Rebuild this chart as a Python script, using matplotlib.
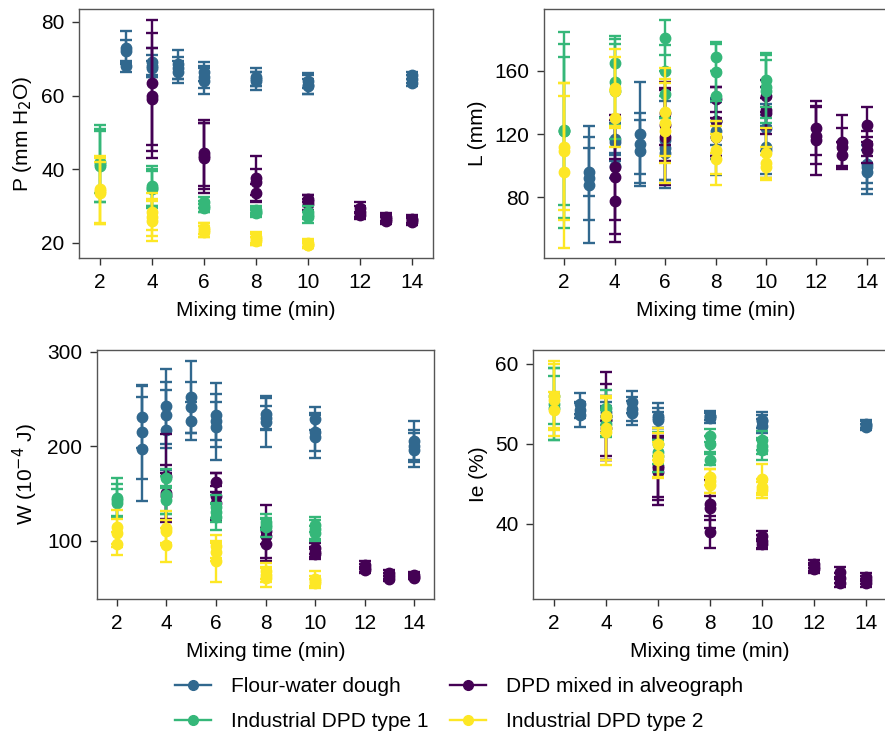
import numpy as np
import matplotlib.pyplot as plt

plt.rcParams['font.family'] = ['Liberation Sans', 'DejaVu Sans']

# ---- series ----
series = ["Flour-water dough", "DPD mixed in alveograph",
          "Industrial DPD type 1", "Industrial DPD type 2"]
colors = ["#31688E", "#440154", "#35B779", "#FDE725"]

t_flour = [3, 4, 5, 6, 8, 10, 14]
t_alveo = [4, 6, 8, 10, 12, 13, 14]
t_ind1 = [2, 4, 6, 8, 10]
t_ind2 = [2, 4, 6, 8, 10]

# ---- P (mm H2O): 3 replicates per time, mean and sd ----
P_flour = [[73, 72, 68], [69, 68, 67.5], [68.5, 67.5, 66.5], [66.5, 65, 64], [65, 64.5, 64], [64, 63, 62.5], [65.5, 64.5, 63.5]]
P_flour_sd = [[4.5, 3, 1.5], [4, 3, 2], [4, 3, 3], [2.5, 3, 3.5], [2.5, 2, 2.5], [2, 2.5, 2], [1, 1, 1]]
P_alveo = [[63.5, 60, 59], [44.5, 43.5, 43], [37.5, 36.5, 33.5], [32, 31.5, 30.5], [29.5, 28.5, 27.5], [27, 26.5, 26], [26.5, 26.2, 25.8]]
P_alveo_sd = [[17, 17, 14], [9, 9, 9.5], [6, 3.5, 2.5], [1, 1.5, 1.5], [1.5, 1.5, 1], [1, 1, 1], [1, 1, 1]]
P_ind1 = [[41.5, 41, 42], [35.5, 35, 34.5], [31, 30, 29.5], [29, 28.5, 28], [28.5, 27.5, 27]]
P_ind1_sd = [[10.5, 10, 8.5], [5.5, 5, 5], [1.5, 1.5, 1], [1, 1, 1], [1.5, 1, 1.5]]
P_ind2 = [[34.5, 34, 33.5], [28.5, 27, 26], [24, 23.5, 23], [21.5, 21, 20.5], [20, 19.5, 19.3]]
P_ind2_sd = [[9, 9, 8.5], [5, 5, 5.5], [1.5, 2, 1.5], [1.5, 1.5, 1], [1, 1, 0.8]]

# ---- L (mm) ----
L_flour = [[96, 92, 88], [117, 115, 100], [120, 114, 109], [116, 111, 108], [128, 118, 122], [124, 112, 110], [101, 99, 96]]
L_flour_sd = [[15, 26, 37], [10, 12, 8], [33, 19, 20], [25, 20, 22], [15, 24, 18], [15, 20, 15], [12, 14, 14]]
L_alveo = [[99, 93, 78], [126, 118, 133], [142, 128, 118], [144, 135, 133], [124, 119, 116], [115, 107, 112], [126, 114, 110]]
L_alveo_sd = [[33, 36, 26], [23, 30, 20], [8, 22, 12], [10, 15, 10], [17, 18, 22], [17, 8, 12], [11, 8, 8]]
L_ind1 = [[122.5, 122, 122], [165, 153, 147], [181, 160, 145], [169, 159, 144], [154, 150, 147]]
L_ind1_sd = [[62, 55, 47], [17, 27, 30], [11, 16, 15], [9, 18, 16], [17, 20, 20]]
L_ind2 = [[112, 109, 96], [149, 147, 130], [134, 122, 127], [118, 110, 104], [108, 102, 99]]
L_ind2_sd = [[40, 43, 48], [25, 22, 18], [28, 33, 25], [10, 15, 16], [16, 10, 8]]

# ---- W (10^-4 J) ----
W_flour = [[231, 215, 197], [242, 217, 233], [252, 241, 227], [233, 227, 220], [234, 230, 226], [229, 215, 210], [206, 200, 196]]
W_flour_sd = [[33, 50, 55], [40, 42, 35], [38, 27, 20], [34, 20, 35], [17, 12, 27], [12, 20, 23], [21, 17, 18]]
W_alveo = [[168, 150, 147], [162, 147, 140], [96, 110, 105], [92, 88, 86], [74, 71, 69], [66, 63, 60], [64, 62, 61]]
W_alveo_sd = [[45, 30, 25], [10, 25, 18], [17, 28, 8], [6, 5, 5], [4, 4, 3], [3, 3, 3], [3, 3, 2]]
W_ind1 = [[145, 143, 140], [166, 148, 143], [136, 125, 130], [120, 117, 114], [117, 112, 108]]
W_ind1_sd = [[21, 17, 15], [10, 20, 15], [12, 14, 10], [8, 6, 10], [8, 10, 8]]
W_ind2 = [[115, 108, 97], [113, 95, 110], [94, 88, 78], [68, 64, 61], [60, 57, 55]]
W_ind2_sd = [[18, 15, 12], [18, 18, 12], [12, 10, 22], [8, 8, 10], [8, 6, 5]]

# ---- Ie (%) ----
Ie_flour = [[55, 53.6, 54.2], [54, 53.5, 53], [55.2, 54.3, 53.8], [53.5, 53.2, 53], [53.5, 53.2, 53.4], [53, 52.8, 52.2], [52.5, 52.3, 52.1]]
Ie_flour_sd = [[1.3, 1.5, 1], [1.2, 1.2, 1.5], [1.4, 1.5, 1.5], [1.6, 1.2, 1], [0.6, 0.6, 0.5], [1, 0.8, 0.9], [0.5, 0.5, 0.4]]
Ie_alveo = [[53.5, 53, 52], [47, 46.5, 47.2], [42.5, 42, 39], [38.5, 37.8, 37.5], [35, 34.6, 34.3], [34, 33.2, 32.6], [33.4, 33, 32.6]]
Ie_alveo_sd = [[5.5, 4.5, 4], [4, 4.2, 3.8], [3, 1.5, 2], [0.6, 0.8, 0.6], [0.5, 0.5, 0.5], [0.6, 0.6, 0.5], [0.5, 0.5, 0.5]]
Ie_ind1 = [[56, 55, 54.5], [54.5, 53.5, 52.5], [50, 49, 48.5], [51, 50, 48], [50.4, 49.7, 49.2]]
Ie_ind1_sd = [[3.5, 4.5, 4], [2.2, 2.5, 1.7], [1.5, 1.5, 2], [0.8, 1, 0.7], [1.2, 1, 1.3]]
Ie_ind2 = [[56, 55.4, 54.2], [53.5, 52, 51.5], [50, 48.5, 48], [45.8, 45.3, 44.8], [45.6, 44.6, 44.2]]
Ie_ind2_sd = [[4.3, 4.5, 2.3], [2.2, 4, 4.2], [2, 2.8, 2.2], [1, 1.5, 1], [1.8, 1, 1]]

times = [t_flour, t_alveo, t_ind1, t_ind2]
panels = [
    ("P (mm H$_2$O)", [P_flour, P_alveo, P_ind1, P_ind2], [P_flour_sd, P_alveo_sd, P_ind1_sd, P_ind2_sd], (15.9, 83.5), [20, 40, 60, 80]),
    ("L (mm)", [L_flour, L_alveo, L_ind1, L_ind2], [L_flour_sd, L_alveo_sd, L_ind1_sd, L_ind2_sd], (41.7, 199), [80, 120, 160]),
    ("W (10$^{-4}$ J)", [W_flour, W_alveo, W_ind1, W_ind2], [W_flour_sd, W_alveo_sd, W_ind1_sd, W_ind2_sd], (38.3, 301.8), [100, 200, 300]),
    ("Ie (%)", [Ie_flour, Ie_alveo, Ie_ind1, Ie_ind2], [Ie_flour_sd, Ie_alveo_sd, Ie_ind1_sd, Ie_ind2_sd], (30.6, 61.7), [40, 50, 60]),
]

# axes rectangles (fig fraction), right panels run slightly past the edge like the original
rects = [
    [0.0893, 0.6485, 0.3997, 0.3392],
    [0.6147, 0.6485, 0.3876, 0.3392],
    [0.1096, 0.1839, 0.3808, 0.3393],
    [0.6026, 0.1839, 0.3997, 0.3393],
]

fig = plt.figure(figsize=(8.85, 7.34), dpi=100)

for rect, (ylab, means, sds, ylim, yticks) in zip(rects, panels):
    ax = fig.add_axes(rect)
    for k in range(4):
        t = np.array(times[k])
        m = np.array(means[k])
        s = np.array(sds[k])
        for r in range(3):
            ax.errorbar(t, m[:, r], yerr=s[:, r], fmt='o', color=colors[k],
                        ms=7.5, elinewidth=1.7, capsize=4, capthick=1.7, zorder=2 + k)
    ax.set_xlim(1.2, 14.8)
    ax.set_ylim(*ylim)
    ax.set_xticks(range(2, 15, 2))
    ax.set_yticks(yticks)
    ax.set_xlabel("Mixing time (min)", fontsize=15, labelpad=7)
    ax.set_ylabel(ylab, fontsize=15, labelpad=5)
    ax.tick_params(labelsize=15, length=5, width=1, color='#333333', pad=5.5)
    for sp in ax.spines.values():
        sp.set_color('#555555')
        sp.set_linewidth(1)

# legend filled row by row: (flour, alveo) then (type 1, type 2)
handles = [plt.Line2D([], [], color=c, marker='o', ms=7, lw=1.7) for c in colors]
order = [0, 2, 1, 3]
fig.legend([handles[i] for i in order], [series[i] for i in order],
           loc='center', bbox_to_anchor=(0.5186, 0.0405), ncol=2,
           frameon=False, fontsize=15, handlelength=1.75, handletextpad=0.95,
           columnspacing=1.0, labelspacing=0.75, borderpad=0)

fig.savefig("out.png", dpi=100)
